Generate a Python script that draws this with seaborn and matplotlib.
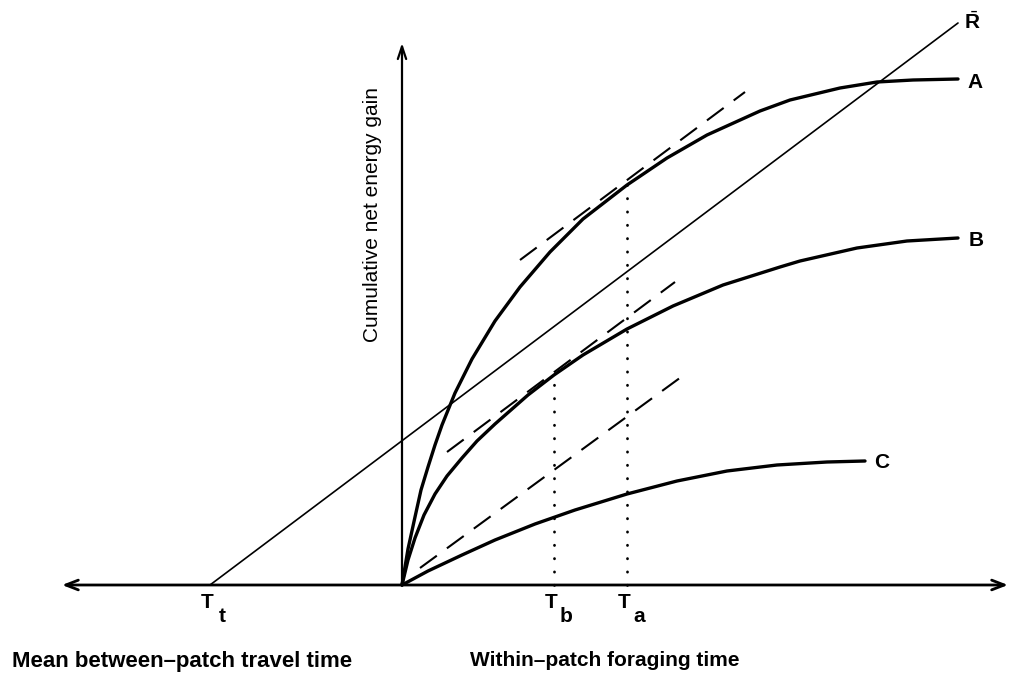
#%% import
import numpy as np
import pandas as pd
import matplotlib
matplotlib.use("Agg")
import matplotlib.pyplot as plt
import seaborn as sns

#%% data (time within patch, cumulative net gain)
time_A = [0, 6, 13, 19, 26, 33, 40, 53, 70, 93, 118, 148, 181, 225, 265, 305, 358, 388, 438, 475, 511, 556]
gain_A = [0, 36, 68, 95, 118, 140, 160, 192, 226, 264, 298, 333, 366, 400, 427, 450, 474, 485, 497, 503, 505, 506]

time_B = [0, 6, 13, 22, 33, 45, 60, 75, 93, 126, 152, 181, 225, 271, 321, 378, 398, 455, 505, 556]
gain_B = [0, 25, 47, 70, 91, 109, 127, 144, 161, 190, 210, 230, 256, 279, 300, 318, 324, 337, 344, 347]

time_C = [0, 26, 60, 93, 133, 173, 225, 275, 325, 375, 425, 463]
gain_C = [0, 14, 30, 45, 61, 75, 91, 104, 114, 120, 123, 124]

# mean rate line R-bar, from travel time T_t
time_R = [-192, 556]
gain_R = [0, 562]

# tangents (slope = R-bar)
tan_A_t = [118, 343]
tan_A_g = [325, 493]
tan_B_t = [45, 273]
tan_B_g = [133, 303]
tan_C_t = [18, 286]
tan_C_g = [17, 213]

# optimal leaving times
T_b, gain_Tb = 152, 208
T_a, gain_Ta = 225, 400
T_t = -192

#%% draw
sns.set_style("white")
plt.rcParams['font.family'] = ['Liberation Sans', 'DejaVu Sans']
plt.rcParams['text.color'] = 'black'
plt.rcParams['mathtext.fontset'] = 'custom'
plt.rcParams['mathtext.rm'] = 'Liberation Sans'
plt.rcParams['mathtext.bf'] = 'Liberation Sans:bold'

fig = plt.figure(figsize=(10.1, 6.75), dpi=100)
ax = fig.add_axes([0, 0, 1, 1])
ax.set_xlim(-402, 608)
ax.set_ylim(-90, 585)
ax.axis("off")

curves = pd.DataFrame({
    "t": time_A + time_B + time_C,
    "g": gain_A + gain_B + gain_C,
    "patch": ["A"] * len(time_A) + ["B"] * len(time_B) + ["C"] * len(time_C),
})
for name, d in curves.groupby("patch"):
    sns.lineplot(data=d, x="t", y="g", color="black", lw=2.4, sort=False,
                 estimator=None, ax=ax, legend=False, solid_joinstyle="round")

sns.lineplot(x=time_R, y=gain_R, color="black", lw=1.2, ax=ax, estimator=None)

for tt, gg in [(tan_A_t, tan_A_g), (tan_B_t, tan_B_g), (tan_C_t, tan_C_g)]:
    sns.lineplot(x=tt, y=gg, color="black", lw=1.5, ax=ax, estimator=None,
                 linestyle=(0, (10, 6)))

for tx, gy in [(T_b, gain_Tb), (T_a, gain_Ta)]:
    ax.plot([tx, tx], [0, gy], color="black", lw=2, linestyle=(0, (0.1, 4.7)),
            dash_capstyle="round")

# axes with arrows
ax.annotate("", xy=(-340, 0), xytext=(606, 0),
            arrowprops=dict(arrowstyle="<->, head_length=0.9, head_width=0.35",
                            lw=2, color="black", shrinkA=0, shrinkB=0))
ax.annotate("", xy=(0, 542), xytext=(0, 0),
            arrowprops=dict(arrowstyle="->, head_length=0.9, head_width=0.3",
                            lw=1.6, color="black", shrinkA=0, shrinkB=0))

# labels
kw = dict(fontsize=15, fontweight="bold", ha="center", va="center", color="black")
ax.text(570, 563, r"$\bar{\mathbf{R}}$", **kw)
ax.text(573, 502, "A", **kw)
ax.text(574, 345, "B", **kw)
ax.text(480, 123, "C", **kw)

for tx, sub in [(T_t, "t"), (T_b, "b"), (T_a, "a")]:
    ax.text(tx - 3, -17, "T", **kw)
    ax.text(tx + 12, -32, sub, **kw)

ax.text(-390, -76, "Mean between\u2013patch travel time", fontsize=16,
        fontweight="bold", ha="left", va="center")
ax.text(68, -76, "Within\u2013patch foraging time", fontsize=15,
        fontweight="bold", ha="left", va="center")
ax.text(-30, 370, "Cumulative net energy gain", fontsize=15, rotation=90,
        ha="center", va="center")

plt.savefig("out.png", dpi=100)
